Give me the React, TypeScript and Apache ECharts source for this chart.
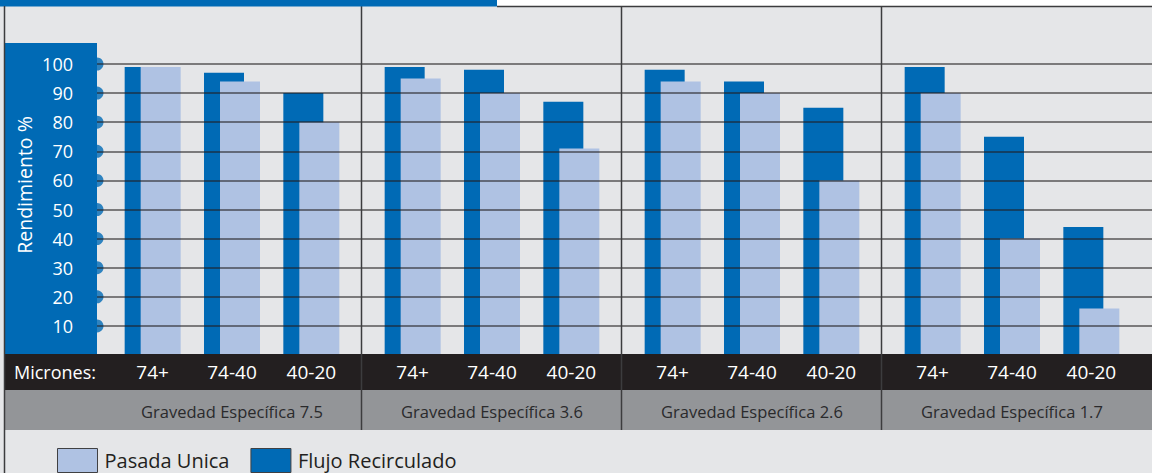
import React, { useEffect, useRef } from "react";
import * as echarts from "echarts";

const groups = [
  "Gravedad Específica 7.5",
  "Gravedad Específica 3.6",
  "Gravedad Específica 2.6",
  "Gravedad Específica 1.7",
];
const micronCategories = ["74+", "74-40", "40-20"];
const pasadaUnica = [
  [99, 94, 80],
  [95, 90, 71],
  [94, 90, 60],
  [90, 40, 16],
];
const flujoRecirculado = [
  [99, 97, 90],
  [99, 98, 87],
  [98, 94, 85],
  [99, 75, 44],
];
const yTicks = [10, 20, 30, 40, 50, 60, 70, 80, 90, 100];

const BLUE = "#006ab5";
const LIGHT = "#afc2e3";
const BG = "#e5e6e8";
const BLACK = "#231f20";
const GRAYBAND = "#939598";
const FONT = "'Open Sans', sans-serif";

const GRID_TOP = 64;
const GRID_H = 291;
const GROUP_START = 113;
const GROUP_STEP = 260;
const GROUP_W = 238;

export default function App() {
  const ref = useRef<HTMLDivElement>(null);
  useEffect(() => {
    if (!ref.current) return;
    const chart = echarts.init(ref.current, undefined, { renderer: "svg" });

    const grids: any[] = [];
    const xAxes: any[] = [];
    const yAxes: any[] = [];
    const series: any[] = [];

    groups.forEach((g, i) => {
      grids.push({ left: GROUP_START + GROUP_STEP * i, width: GROUP_W, top: GRID_TOP, height: GRID_H });
    });
    grids.push({ left: 97, right: 0, top: GRID_TOP, height: GRID_H });

    groups.forEach((g, i) => {
      xAxes.push({
        type: "category",
        gridIndex: i,
        data: micronCategories,
        axisLine: { show: false },
        axisTick: { show: false },
        z: 15,
        axisLabel: {
          color: "#ffffff",
          fontSize: 19,
          fontFamily: FONT,
          margin: 17,
          verticalAlign: "middle",
        },
      });
    });
    groups.forEach((g, i) => {
      xAxes.push({
        type: "category",
        gridIndex: i,
        position: "bottom",
        data: [g],
        axisLine: { show: false },
        axisTick: { show: false },
        z: 15,
        axisLabel: {
          color: "#2a2a2c",
          fontSize: 16.5,
          fontFamily: FONT,
          margin: 56,
          verticalAlign: "middle",
        },
      });
    });
    xAxes.push({ type: "value", gridIndex: 4, min: 0, max: 1, show: false });

    groups.forEach((g, i) => {
      yAxes.push({ type: "value", gridIndex: i, min: 0, max: 100, interval: 10, show: false });
    });
    yAxes.push({
      type: "value",
      gridIndex: 4,
      min: 0,
      max: 100,
      interval: 10,
      z: 5,
      axisLine: { show: false },
      axisTick: { show: false },
      axisLabel: {
        color: "#ffffff",
        fontSize: 18,
        fontFamily: FONT,
        margin: 24,
        showMinLabel: false,
      },
      splitLine: { show: true, lineStyle: { color: "rgba(35,31,32,0.72)", width: 1.5 } },
    });

    groups.forEach((g, i) => {
      series.push({
        type: "bar",
        name: "Flujo Recirculado",
        xAxisIndex: i,
        yAxisIndex: i,
        data: flujoRecirculado[i],
        barWidth: 40,
        barGap: "-60%",
        itemStyle: { color: BLUE },
        silent: true,
      });
      series.push({
        type: "bar",
        name: "Pasada Unica",
        xAxisIndex: i,
        yAxisIndex: i,
        data: pasadaUnica[i],
        barWidth: 40,
        barGap: "-60%",
        itemStyle: { color: LIGHT },
        silent: true,
      });
    });
    series.push({
      type: "scatter",
      xAxisIndex: 8,
      yAxisIndex: 4,
      data: yTicks.map((v) => [0, v]),
      symbol: "circle",
      symbolSize: 13,
      itemStyle: { color: BLUE },
      clip: false,
      silent: true,
      z: 3,
    });

    const separators = [1, 2, 3].map((i) => ({
      type: "line",
      z: 12,
      shape: { x1: GROUP_START + GROUP_STEP * i - 11.5, y1: 6, x2: GROUP_START + GROUP_STEP * i - 11.5, y2: 430 },
      style: { stroke: "#3c3c3e", lineWidth: 1.5 },
    }));

    const option: any = {
      animation: false,
      backgroundColor: BG,
      textStyle: { fontFamily: FONT },
      grid: grids,
      xAxis: xAxes,
      yAxis: yAxes,
      series,
      legend: {
        data: ["Pasada Unica", "Flujo Recirculado"],
        left: 57,
        top: 448,
        padding: 0,
        itemWidth: 40,
        itemHeight: 24,
        itemGap: 21,
        icon: "rect",
        selectedMode: false,
        itemStyle: { borderColor: "#404042", borderWidth: 1 },
        textStyle: { fontSize: 20, color: BLACK, fontFamily: FONT, padding: [0, 0, 0, 2] },
      },
      graphic: [
        { type: "rect", z: 20, shape: { x: 0, y: 0, width: 1152, height: 6 }, style: { fill: "#ffffff" } },
        { type: "rect", z: 21, shape: { x: 0, y: 0, width: 497, height: 6.5 }, style: { fill: BLUE } },
        { type: "line", z: 21, shape: { x1: 497, y1: 6.5, x2: 1152, y2: 6.5 }, style: { stroke: "#3c3c3e", lineWidth: 1.5 } },
        { type: "line", z: 21, shape: { x1: 4.5, y1: 6, x2: 4.5, y2: 473 }, style: { stroke: "#3c3c3e", lineWidth: 1.5 } },
        { type: "rect", z: 1, shape: { x: 5, y: 43, width: 92, height: 312 }, style: { fill: BLUE } },
        { type: "rect", z: 10, shape: { x: 5, y: 354, width: 1147, height: 36 }, style: { fill: BLACK } },
        { type: "rect", z: 10, shape: { x: 5, y: 390, width: 1147, height: 40 }, style: { fill: GRAYBAND } },
        ...separators,
        {
          type: "text",
          z: 13,
          x: 14,
          y: 372,
          style: { text: "Micrones:", fill: "#ffffff", fontSize: 18, fontFamily: FONT, verticalAlign: "middle" },
        },
        {
          type: "text",
          z: 13,
          x: 24,
          y: 185,
          rotation: Math.PI / 2,
          style: {
            text: "Rendimiento %",
            fill: "#ffffff",
            fontSize: 19.5,
            fontFamily: FONT,
            align: "center",
            verticalAlign: "middle",
          },
        },
      ],
    };
    chart.setOption(option);
    return () => chart.dispose();
  }, []);
  return <div ref={ref} style={{ position: "fixed", left: 0, top: 0, width: 1152, height: 473 }} />;
}
